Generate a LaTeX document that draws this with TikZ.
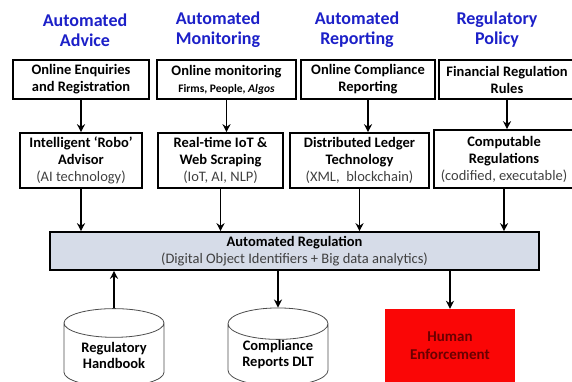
\documentclass[tikz,border=0pt]{standalone}
\usepackage{fontspec}
\setmainfont{Carlito}
\usetikzlibrary{shapes.geometric,arrows.meta}
\definecolor{hdblue}{RGB}{28,32,200}
\definecolor{regfill}{RGB}{214,220,232}
\definecolor{enfred}{RGB}{250,6,6}
\definecolor{enftext}{RGB}{105,0,0}
\newcommand{\subline}[1]{{\mdseries\color{black!75}#1}}
\begin{document}
\begin{tikzpicture}[x=1pt,y=-1pt,
  head/.style={text=hdblue, align=center, font=\fontsize{18}{20}\selectfont\bfseries},
  box/.style={draw, line width=1.6pt, align=center, inner sep=0pt, font=\fontsize{14.5}{17}\selectfont\bfseries},
  cyl/.style={cylinder, shape border rotate=90, draw=black!70, line width=0.8pt, aspect=0.44,
    minimum width=100pt, minimum height=78pt, inner sep=0pt, align=center,
    font=\fontsize{14.5}{16}\selectfont\bfseries},
  arr/.style={draw, line width=1.5pt, -{Stealth[length=8pt,width=8pt]}}]
\useasboundingbox (0,0) rectangle (572,382);
\clip (0,0) rectangle (572,382);
% column headers
\node[head] (h1) at (85,30) {Automated\\Advice};
\node[head] (h2) at (218,30) {Automated\\Monitoring};
\node[head] (h3) at (357,30) {Automated\\Reporting};
\node[head] (h4) at (497,30) {Regulatory\\Policy};
% first row
\node[box, minimum width=136pt, minimum height=39pt] (t1) at (81,79.5) {Online Enquiries\\and Registration};
\node[box, minimum width=139pt, minimum height=39pt] (t2) at (226.5,79.5) {Online monitoring\\{\fontsize{11.5}{14}\selectfont Firms, People, \textit{Algos}}};
\node[box, minimum width=134pt, minimum height=39pt] (t3) at (368,79.5) {Online Compliance\\Reporting};
\node[box, minimum width=136pt, minimum height=39pt] (t4) at (507,79.5) {Financial Regulation\\Rules};
% second row
\node[box, minimum width=122pt, minimum height=55pt] (s1) at (81,160.5) {Intelligent `Robo'\\Advisor\\\subline{(AI technology)}};
\node[box, minimum width=125pt, minimum height=55pt] (s2) at (220.5,160.5) {Real-time IoT \&\\Web Scraping\\\subline{(IoT, AI, NLP)}};
\node[box, minimum width=139pt, minimum height=55pt] (s3) at (359.5,160.5) {Distributed Ledger\\Technology\\\subline{(XML,\ \ blockchain)}};
\node[box, minimum width=140pt, minimum height=58pt] (s4) at (504,159) {Computable\\Regulations\\\subline{(codified, executable)}};
% automated regulation
\node[box, fill=regfill, minimum width=489pt, minimum height=38pt] (m) at (294.5,251) {Automated Regulation\\\subline{(Digital Object Identifiers + Big data analytics)}};
% stores and enforcement
\node[cyl] (c1) at (114,355) {Regulatory\\Handbook};
\node[cyl] (c2) at (278,355) {Compliance\\Reports DLT};
\node[draw=none, fill=enfred, text=enftext, align=center, minimum width=130pt, minimum height=74pt,
  font=\fontsize{15}{18}\selectfont\bfseries] (e) at (450,346) {Human\\Enforcement};
% arrows
\path[arr] (t1.south) -- (t1.south |- s1.north);
\path[arr] (t2.south) -- (t2.south |- s2.north);
\path[arr] (t3.south) -- (t3.south |- s3.north);
\path[arr] (t4.south) -- (t4.south |- s4.north);
\path[arr] (s1.south) -- (s1.south |- m.north);
\path[arr] (s2.south) -- (s2.south |- m.north);
\path[arr] (s3.south) -- (s3.south |- m.north);
\path[arr] (s4.south) -- (s4.south |- m.north);
\path[arr] (c1.north) -- (c1.north |- m.south);
\path[arr] (m.south -| c2.north) -- (c2.north);
\path[arr] (m.south -| e.north) -- (e.north);
\end{tikzpicture}
\end{document}
